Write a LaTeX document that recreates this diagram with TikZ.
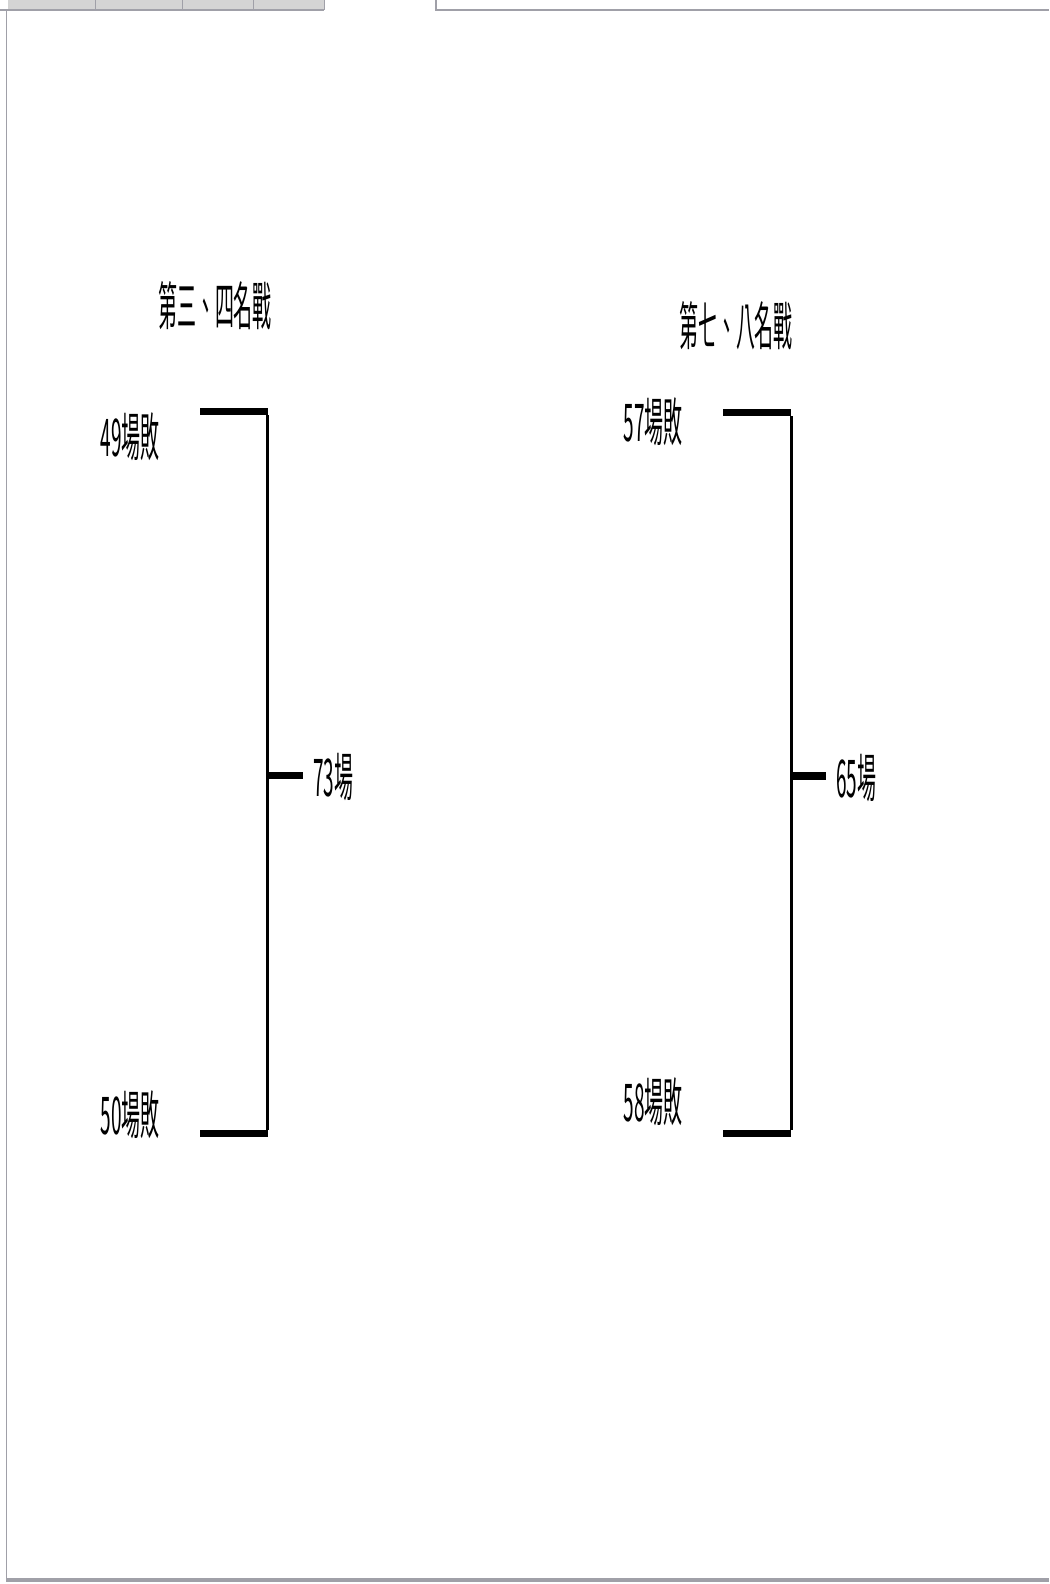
\documentclass[tikz,border=0pt]{standalone}
\usepackage{fontspec}
\newfontfamily\cjk{Noto Sans CJK TC}
\definecolor{tabgray}{HTML}{D4D4D4}
\definecolor{edgegray}{HTML}{A0A0A8}
\begin{document}
\begin{tikzpicture}[x=1pt,y=-1pt,
  lbl/.style={inner sep=0pt, font=\cjk\fontsize{52}{52}\selectfont},
  bar/.style={line width=7.5pt, line cap=butt},
  stem/.style={line width=3pt},
  frame/.style={draw=edgegray, line width=1.2pt}]
\useasboundingbox (0,0) rectangle (1049,1584);
% window frame
\fill[tabgray] (8,0) rectangle (324,10);
\draw[frame] (0,10) -- (324,10);
\foreach \sx in {95,182,253,324} \draw[edgegray, line width=1pt] (\sx,0) -- (\sx,10);
\draw[frame] (436,0) -- (436,10) -- (1049,10);
\draw[frame] (6.5,10) -- (6.5,1580);
\draw[edgegray, line width=4pt] (6,1580) -- (1049,1580);
% left bracket
\node[lbl] (t1) at (215,306) {\scalebox{0.365}[1]{第三、四名戰}};
\node[lbl, anchor=east] (a49) at (160,437) {\scalebox{0.365}[1]{49場敗}};
\node[lbl, anchor=east] (a50) at (160,1115) {\scalebox{0.365}[1]{50場敗}};
\node[lbl, anchor=west] (m73) at (313,777) {\scalebox{0.365}[1]{73場}};
\coordinate (l1) at (200,411.5);
\coordinate (c1) at (267.5,411.5);
\coordinate (l2) at (200,1133.5);
\coordinate (c2) at (267.5,1133.5);
\coordinate (mid1) at (267.5,775.5);
\coordinate (o1) at (303,775.5);
\draw[bar] (l1) -- (c1);
\draw[bar] (l2) -- (c2);
\draw[stem] ([yshift=-3.75pt]c1) -- ([yshift=3.75pt]c2);
\draw[bar] (mid1) -- (o1);
% right bracket
\node[lbl] (t2) at (736,326) {\scalebox{0.365}[1]{第七、八名戰}};
\node[lbl, anchor=east] (a57) at (683,422) {\scalebox{0.365}[1]{57場敗}};
\node[lbl, anchor=east] (a58) at (683,1102) {\scalebox{0.365}[1]{58場敗}};
\node[lbl, anchor=west] (m65) at (836,778) {\scalebox{0.365}[1]{65場}};
\coordinate (r1) at (723,412.5);
\coordinate (d1) at (791,412.5);
\coordinate (r2) at (723,1133.5);
\coordinate (d2) at (791,1133.5);
\coordinate (mid2) at (791,776);
\coordinate (o2) at (826,776);
\draw[bar] (r1) -- (d1);
\draw[bar] (r2) -- (d2);
\draw[stem] ([yshift=-3.75pt]d1) -- ([yshift=3.75pt]d2);
\draw[bar] (mid2) -- (o2);
\end{tikzpicture}
\end{document}
